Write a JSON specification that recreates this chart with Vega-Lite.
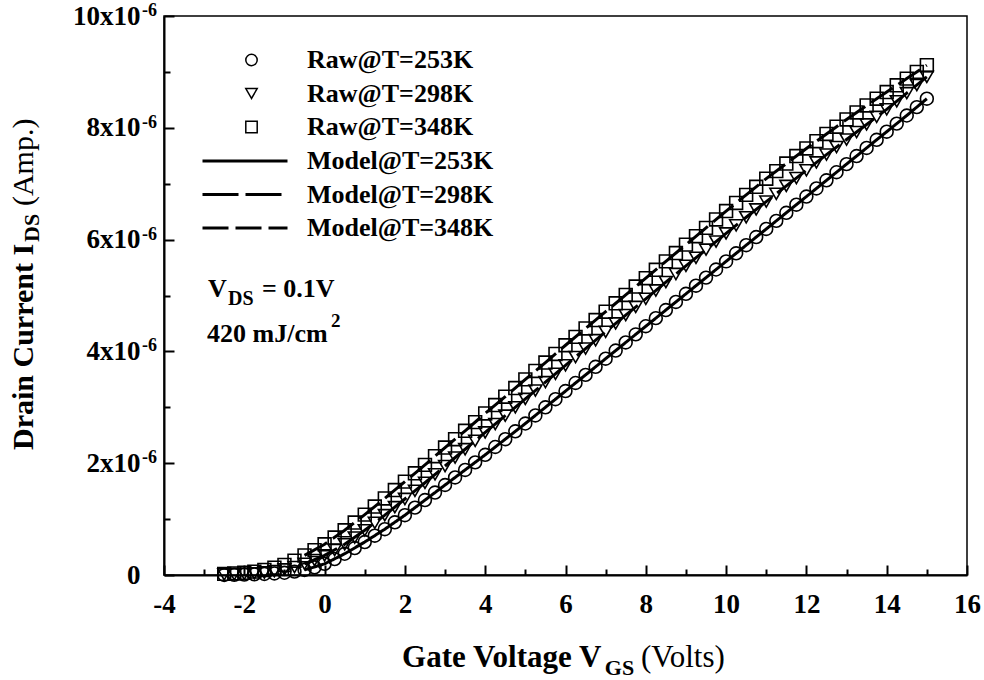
{
  "$schema": "https://vega.github.io/schema/vega-lite/v6.json",
  "width": 803,
  "height": 559,
  "autosize": "none",
  "padding": {"left": 164, "top": 16, "right": 17, "bottom": 105},
  "background": "white",
  "config": {
    "view": {"stroke": "black", "strokeWidth": 1.5},
    "axis": {
      "labelFont": "Liberation Serif",
      "labelFontWeight": "bold",
      "labelFontSize": 27,
      "labelColor": "black",
      "domainColor": "black",
      "domainWidth": 2,
      "tickColor": "black",
      "tickWidth": 2,
      "grid": false,
      "labelFlush": false,
      "labelOverlap": false
    },
    "legend": {
      "labelFont": "Liberation Serif",
      "labelFontWeight": "bold",
      "labelFontSize": 26,
      "labelColor": "black",
      "labelLimit": 400,
      "padding": 0,
      "rowPadding": 7.5
    },
    "text": {"font": "Liberation Serif", "color": "black", "align": "left", "baseline": "alphabetic"}
  },
  "datasets": {
    "raw": [
      {"T": 253, "v": -2.5, "i": 0.0}, {"T": 253, "v": -2.25, "i": 0.004}, {"T": 253, "v": -2.0, "i": 0.008}, {"T": 253, "v": -1.75, "i": 0.012},
      {"T": 253, "v": -1.5, "i": 0.018}, {"T": 253, "v": -1.25, "i": 0.027}, {"T": 253, "v": -1.0, "i": 0.04}, {"T": 253, "v": -0.75, "i": 0.06},
      {"T": 253, "v": -0.5, "i": 0.09}, {"T": 253, "v": -0.25, "i": 0.138}, {"T": 253, "v": 0.0, "i": 0.2}, {"T": 253, "v": 0.25, "i": 0.285},
      {"T": 253, "v": 0.5, "i": 0.38}, {"T": 253, "v": 0.75, "i": 0.482}, {"T": 253, "v": 1.0, "i": 0.59}, {"T": 253, "v": 1.25, "i": 0.703},
      {"T": 253, "v": 1.5, "i": 0.82}, {"T": 253, "v": 1.75, "i": 0.943}, {"T": 253, "v": 2.0, "i": 1.07}, {"T": 253, "v": 2.25, "i": 1.205},
      {"T": 253, "v": 2.5, "i": 1.34}, {"T": 253, "v": 2.75, "i": 1.475}, {"T": 253, "v": 3.0, "i": 1.61}, {"T": 253, "v": 3.25, "i": 1.745},
      {"T": 253, "v": 3.5, "i": 1.88}, {"T": 253, "v": 3.75, "i": 2.015}, {"T": 253, "v": 4.0, "i": 2.15}, {"T": 253, "v": 4.25, "i": 2.29},
      {"T": 253, "v": 4.5, "i": 2.43}, {"T": 253, "v": 4.75, "i": 2.57}, {"T": 253, "v": 5.0, "i": 2.71}, {"T": 253, "v": 5.25, "i": 2.855},
      {"T": 253, "v": 5.5, "i": 3.0}, {"T": 253, "v": 5.75, "i": 3.145}, {"T": 253, "v": 6.0, "i": 3.29}, {"T": 253, "v": 6.25, "i": 3.435},
      {"T": 253, "v": 6.5, "i": 3.58}, {"T": 253, "v": 6.75, "i": 3.725}, {"T": 253, "v": 7.0, "i": 3.87}, {"T": 253, "v": 7.25, "i": 4.015},
      {"T": 253, "v": 7.5, "i": 4.16}, {"T": 253, "v": 7.75, "i": 4.305}, {"T": 253, "v": 8.0, "i": 4.45}, {"T": 253, "v": 8.25, "i": 4.595},
      {"T": 253, "v": 8.5, "i": 4.74}, {"T": 253, "v": 8.75, "i": 4.885}, {"T": 253, "v": 9.0, "i": 5.03}, {"T": 253, "v": 9.25, "i": 5.175},
      {"T": 253, "v": 9.5, "i": 5.32}, {"T": 253, "v": 9.75, "i": 5.465}, {"T": 253, "v": 10.0, "i": 5.61}, {"T": 253, "v": 10.25, "i": 5.755},
      {"T": 253, "v": 10.5, "i": 5.9}, {"T": 253, "v": 10.75, "i": 6.045}, {"T": 253, "v": 11.0, "i": 6.19}, {"T": 253, "v": 11.25, "i": 6.335},
      {"T": 253, "v": 11.5, "i": 6.48}, {"T": 253, "v": 11.75, "i": 6.625}, {"T": 253, "v": 12.0, "i": 6.77}, {"T": 253, "v": 12.25, "i": 6.915},
      {"T": 253, "v": 12.5, "i": 7.06}, {"T": 253, "v": 12.75, "i": 7.205}, {"T": 253, "v": 13.0, "i": 7.35}, {"T": 253, "v": 13.25, "i": 7.495},
      {"T": 253, "v": 13.5, "i": 7.64}, {"T": 253, "v": 13.75, "i": 7.785}, {"T": 253, "v": 14.0, "i": 7.93}, {"T": 253, "v": 14.25, "i": 8.075},
      {"T": 253, "v": 14.5, "i": 8.22}, {"T": 253, "v": 14.75, "i": 8.37}, {"T": 253, "v": 15.0, "i": 8.52},

      {"T": 298, "v": -2.5, "i": 0.01}, {"T": 298, "v": -2.25, "i": 0.014}, {"T": 298, "v": -2.0, "i": 0.02}, {"T": 298, "v": -1.75, "i": 0.03},
      {"T": 298, "v": -1.5, "i": 0.045}, {"T": 298, "v": -1.25, "i": 0.068}, {"T": 298, "v": -1.0, "i": 0.1}, {"T": 298, "v": -0.75, "i": 0.143},
      {"T": 298, "v": -0.5, "i": 0.2}, {"T": 298, "v": -0.25, "i": 0.268}, {"T": 298, "v": 0.0, "i": 0.35}, {"T": 298, "v": 0.25, "i": 0.445},
      {"T": 298, "v": 0.5, "i": 0.55}, {"T": 298, "v": 0.75, "i": 0.67}, {"T": 298, "v": 1.0, "i": 0.8}, {"T": 298, "v": 1.25, "i": 0.933},
      {"T": 298, "v": 1.5, "i": 1.07}, {"T": 298, "v": 1.75, "i": 1.213}, {"T": 298, "v": 2.0, "i": 1.36}, {"T": 298, "v": 2.25, "i": 1.505},
      {"T": 298, "v": 2.5, "i": 1.65}, {"T": 298, "v": 2.75, "i": 1.8}, {"T": 298, "v": 3.0, "i": 1.95}, {"T": 298, "v": 3.25, "i": 2.1},
      {"T": 298, "v": 3.5, "i": 2.25}, {"T": 298, "v": 3.75, "i": 2.4}, {"T": 298, "v": 4.0, "i": 2.55}, {"T": 298, "v": 4.25, "i": 2.7},
      {"T": 298, "v": 4.5, "i": 2.85}, {"T": 298, "v": 4.75, "i": 3.0}, {"T": 298, "v": 5.0, "i": 3.15}, {"T": 298, "v": 5.25, "i": 3.3},
      {"T": 298, "v": 5.5, "i": 3.45}, {"T": 298, "v": 5.75, "i": 3.6}, {"T": 298, "v": 6.0, "i": 3.75}, {"T": 298, "v": 6.25, "i": 3.9},
      {"T": 298, "v": 6.5, "i": 4.05}, {"T": 298, "v": 6.75, "i": 4.2}, {"T": 298, "v": 7.0, "i": 4.35}, {"T": 298, "v": 7.25, "i": 4.5},
      {"T": 298, "v": 7.5, "i": 4.65}, {"T": 298, "v": 7.75, "i": 4.795}, {"T": 298, "v": 8.0, "i": 4.94}, {"T": 298, "v": 8.25, "i": 5.09},
      {"T": 298, "v": 8.5, "i": 5.24}, {"T": 298, "v": 8.75, "i": 5.385}, {"T": 298, "v": 9.0, "i": 5.53}, {"T": 298, "v": 9.25, "i": 5.675},
      {"T": 298, "v": 9.5, "i": 5.82}, {"T": 298, "v": 9.75, "i": 5.965}, {"T": 298, "v": 10.0, "i": 6.11}, {"T": 298, "v": 10.25, "i": 6.255},
      {"T": 298, "v": 10.5, "i": 6.4}, {"T": 298, "v": 10.75, "i": 6.54}, {"T": 298, "v": 11.0, "i": 6.68}, {"T": 298, "v": 11.25, "i": 6.82},
      {"T": 298, "v": 11.5, "i": 6.96}, {"T": 298, "v": 11.75, "i": 7.1}, {"T": 298, "v": 12.0, "i": 7.24}, {"T": 298, "v": 12.25, "i": 7.38},
      {"T": 298, "v": 12.5, "i": 7.52}, {"T": 298, "v": 12.75, "i": 7.655}, {"T": 298, "v": 13.0, "i": 7.79}, {"T": 298, "v": 13.25, "i": 7.925},
      {"T": 298, "v": 13.5, "i": 8.06}, {"T": 298, "v": 13.75, "i": 8.195}, {"T": 298, "v": 14.0, "i": 8.33}, {"T": 298, "v": 14.25, "i": 8.475},
      {"T": 298, "v": 14.5, "i": 8.62}, {"T": 298, "v": 14.75, "i": 8.765}, {"T": 298, "v": 15.0, "i": 8.91},

      {"T": 348, "v": -2.5, "i": 0.02}, {"T": 348, "v": -2.25, "i": 0.028}, {"T": 348, "v": -2.0, "i": 0.04}, {"T": 348, "v": -1.75, "i": 0.06},
      {"T": 348, "v": -1.5, "i": 0.09}, {"T": 348, "v": -1.25, "i": 0.13}, {"T": 348, "v": -1.0, "i": 0.18}, {"T": 348, "v": -0.75, "i": 0.255},
      {"T": 348, "v": -0.5, "i": 0.35}, {"T": 348, "v": -0.25, "i": 0.445}, {"T": 348, "v": 0.0, "i": 0.55}, {"T": 348, "v": 0.25, "i": 0.67},
      {"T": 348, "v": 0.5, "i": 0.8}, {"T": 348, "v": 0.75, "i": 0.938}, {"T": 348, "v": 1.0, "i": 1.08}, {"T": 348, "v": 1.25, "i": 1.225},
      {"T": 348, "v": 1.5, "i": 1.37}, {"T": 348, "v": 1.75, "i": 1.52}, {"T": 348, "v": 2.0, "i": 1.67}, {"T": 348, "v": 2.25, "i": 1.82},
      {"T": 348, "v": 2.5, "i": 1.97}, {"T": 348, "v": 2.75, "i": 2.125}, {"T": 348, "v": 3.0, "i": 2.28}, {"T": 348, "v": 3.25, "i": 2.43},
      {"T": 348, "v": 3.5, "i": 2.58}, {"T": 348, "v": 3.75, "i": 2.735}, {"T": 348, "v": 4.0, "i": 2.89}, {"T": 348, "v": 4.25, "i": 3.04},
      {"T": 348, "v": 4.5, "i": 3.19}, {"T": 348, "v": 4.75, "i": 3.345}, {"T": 348, "v": 5.0, "i": 3.5}, {"T": 348, "v": 5.25, "i": 3.65},
      {"T": 348, "v": 5.5, "i": 3.8}, {"T": 348, "v": 5.75, "i": 3.955}, {"T": 348, "v": 6.0, "i": 4.11}, {"T": 348, "v": 6.25, "i": 4.26},
      {"T": 348, "v": 6.5, "i": 4.41}, {"T": 348, "v": 6.75, "i": 4.56}, {"T": 348, "v": 7.0, "i": 4.71}, {"T": 348, "v": 7.25, "i": 4.86},
      {"T": 348, "v": 7.5, "i": 5.01}, {"T": 348, "v": 7.75, "i": 5.16}, {"T": 348, "v": 8.0, "i": 5.31}, {"T": 348, "v": 8.25, "i": 5.46},
      {"T": 348, "v": 8.5, "i": 5.61}, {"T": 348, "v": 8.75, "i": 5.76}, {"T": 348, "v": 9.0, "i": 5.91}, {"T": 348, "v": 9.25, "i": 6.06},
      {"T": 348, "v": 9.5, "i": 6.21}, {"T": 348, "v": 9.75, "i": 6.36}, {"T": 348, "v": 10.0, "i": 6.51}, {"T": 348, "v": 10.25, "i": 6.655},
      {"T": 348, "v": 10.5, "i": 6.8}, {"T": 348, "v": 10.75, "i": 6.945}, {"T": 348, "v": 11.0, "i": 7.09}, {"T": 348, "v": 11.25, "i": 7.225},
      {"T": 348, "v": 11.5, "i": 7.36}, {"T": 348, "v": 11.75, "i": 7.495}, {"T": 348, "v": 12.0, "i": 7.63}, {"T": 348, "v": 12.25, "i": 7.76},
      {"T": 348, "v": 12.5, "i": 7.89}, {"T": 348, "v": 12.75, "i": 8.02}, {"T": 348, "v": 13.0, "i": 8.15}, {"T": 348, "v": 13.25, "i": 8.275},
      {"T": 348, "v": 13.5, "i": 8.4}, {"T": 348, "v": 13.75, "i": 8.52}, {"T": 348, "v": 14.0, "i": 8.64}, {"T": 348, "v": 14.25, "i": 8.76},
      {"T": 348, "v": 14.5, "i": 8.88}, {"T": 348, "v": 14.75, "i": 9.0}, {"T": 348, "v": 15.0, "i": 9.12}
    ],
    "model": [
      {"model": "Model@T=253K", "v": -0.5, "i": 0.09}, {"model": "Model@T=253K", "v": 0.0, "i": 0.2}, {"model": "Model@T=253K", "v": 0.5, "i": 0.38}, {"model": "Model@T=253K", "v": 1.0, "i": 0.59},
      {"model": "Model@T=253K", "v": 1.5, "i": 0.82}, {"model": "Model@T=253K", "v": 2.0, "i": 1.07}, {"model": "Model@T=253K", "v": 2.5, "i": 1.34}, {"model": "Model@T=253K", "v": 3.0, "i": 1.61},
      {"model": "Model@T=253K", "v": 3.5, "i": 1.88}, {"model": "Model@T=253K", "v": 4.0, "i": 2.15}, {"model": "Model@T=253K", "v": 4.5, "i": 2.43}, {"model": "Model@T=253K", "v": 5.0, "i": 2.71},
      {"model": "Model@T=253K", "v": 5.5, "i": 3.0}, {"model": "Model@T=253K", "v": 6.0, "i": 3.29}, {"model": "Model@T=253K", "v": 6.5, "i": 3.58}, {"model": "Model@T=253K", "v": 7.0, "i": 3.87},
      {"model": "Model@T=253K", "v": 7.5, "i": 4.16}, {"model": "Model@T=253K", "v": 8.0, "i": 4.45}, {"model": "Model@T=253K", "v": 8.5, "i": 4.74}, {"model": "Model@T=253K", "v": 9.0, "i": 5.03},
      {"model": "Model@T=253K", "v": 9.5, "i": 5.32}, {"model": "Model@T=253K", "v": 10.0, "i": 5.61}, {"model": "Model@T=253K", "v": 10.5, "i": 5.9}, {"model": "Model@T=253K", "v": 11.0, "i": 6.19},
      {"model": "Model@T=253K", "v": 11.5, "i": 6.48}, {"model": "Model@T=253K", "v": 12.0, "i": 6.77}, {"model": "Model@T=253K", "v": 12.5, "i": 7.06}, {"model": "Model@T=253K", "v": 13.0, "i": 7.35},
      {"model": "Model@T=253K", "v": 13.5, "i": 7.64}, {"model": "Model@T=253K", "v": 14.0, "i": 7.93}, {"model": "Model@T=253K", "v": 14.5, "i": 8.22}, {"model": "Model@T=253K", "v": 15.0, "i": 8.52},

      {"model": "Model@T=298K", "v": -0.5, "i": 0.2}, {"model": "Model@T=298K", "v": 0.0, "i": 0.35}, {"model": "Model@T=298K", "v": 0.5, "i": 0.55}, {"model": "Model@T=298K", "v": 1.0, "i": 0.8},
      {"model": "Model@T=298K", "v": 1.5, "i": 1.07}, {"model": "Model@T=298K", "v": 2.0, "i": 1.36}, {"model": "Model@T=298K", "v": 2.5, "i": 1.65}, {"model": "Model@T=298K", "v": 3.0, "i": 1.95},
      {"model": "Model@T=298K", "v": 3.5, "i": 2.25}, {"model": "Model@T=298K", "v": 4.0, "i": 2.55}, {"model": "Model@T=298K", "v": 4.5, "i": 2.85}, {"model": "Model@T=298K", "v": 5.0, "i": 3.15},
      {"model": "Model@T=298K", "v": 5.5, "i": 3.45}, {"model": "Model@T=298K", "v": 6.0, "i": 3.75}, {"model": "Model@T=298K", "v": 6.5, "i": 4.05}, {"model": "Model@T=298K", "v": 7.0, "i": 4.35},
      {"model": "Model@T=298K", "v": 7.5, "i": 4.65}, {"model": "Model@T=298K", "v": 8.0, "i": 4.94}, {"model": "Model@T=298K", "v": 8.5, "i": 5.24}, {"model": "Model@T=298K", "v": 9.0, "i": 5.53},
      {"model": "Model@T=298K", "v": 9.5, "i": 5.82}, {"model": "Model@T=298K", "v": 10.0, "i": 6.11}, {"model": "Model@T=298K", "v": 10.5, "i": 6.4}, {"model": "Model@T=298K", "v": 11.0, "i": 6.68},
      {"model": "Model@T=298K", "v": 11.5, "i": 6.96}, {"model": "Model@T=298K", "v": 12.0, "i": 7.24}, {"model": "Model@T=298K", "v": 12.5, "i": 7.52}, {"model": "Model@T=298K", "v": 13.0, "i": 7.79},
      {"model": "Model@T=298K", "v": 13.5, "i": 8.06}, {"model": "Model@T=298K", "v": 14.0, "i": 8.33}, {"model": "Model@T=298K", "v": 14.5, "i": 8.62}, {"model": "Model@T=298K", "v": 15.0, "i": 8.91},

      {"model": "Model@T=348K", "v": -0.5, "i": 0.35}, {"model": "Model@T=348K", "v": 0.0, "i": 0.55}, {"model": "Model@T=348K", "v": 0.5, "i": 0.8}, {"model": "Model@T=348K", "v": 1.0, "i": 1.08},
      {"model": "Model@T=348K", "v": 1.5, "i": 1.37}, {"model": "Model@T=348K", "v": 2.0, "i": 1.67}, {"model": "Model@T=348K", "v": 2.5, "i": 1.97}, {"model": "Model@T=348K", "v": 3.0, "i": 2.28},
      {"model": "Model@T=348K", "v": 3.5, "i": 2.58}, {"model": "Model@T=348K", "v": 4.0, "i": 2.89}, {"model": "Model@T=348K", "v": 4.5, "i": 3.19}, {"model": "Model@T=348K", "v": 5.0, "i": 3.5},
      {"model": "Model@T=348K", "v": 5.5, "i": 3.8}, {"model": "Model@T=348K", "v": 6.0, "i": 4.11}, {"model": "Model@T=348K", "v": 6.5, "i": 4.41}, {"model": "Model@T=348K", "v": 7.0, "i": 4.71},
      {"model": "Model@T=348K", "v": 7.5, "i": 5.01}, {"model": "Model@T=348K", "v": 8.0, "i": 5.31}, {"model": "Model@T=348K", "v": 8.5, "i": 5.61}, {"model": "Model@T=348K", "v": 9.0, "i": 5.91},
      {"model": "Model@T=348K", "v": 9.5, "i": 6.21}, {"model": "Model@T=348K", "v": 10.0, "i": 6.51}, {"model": "Model@T=348K", "v": 10.5, "i": 6.8}, {"model": "Model@T=348K", "v": 11.0, "i": 7.09},
      {"model": "Model@T=348K", "v": 11.5, "i": 7.36}, {"model": "Model@T=348K", "v": 12.0, "i": 7.63}, {"model": "Model@T=348K", "v": 12.5, "i": 7.89}, {"model": "Model@T=348K", "v": 13.0, "i": 8.15},
      {"model": "Model@T=348K", "v": 13.5, "i": 8.4}, {"model": "Model@T=348K", "v": 14.0, "i": 8.64}, {"model": "Model@T=348K", "v": 14.5, "i": 8.88}, {"model": "Model@T=348K", "v": 15.0, "i": 9.12}
    ]
  },
  "layer": [
    {
      "data": {"name": "raw"},
      "mark": {"type": "point", "filled": false, "size": 165, "strokeWidth": 1.6, "color": "black", "opacity": 1},
      "encoding": {
        "x": {
          "field": "v", "type": "quantitative",
          "scale": {"domain": [-4, 16], "nice": false, "zero": false},
          "axis": {
            "title": null,
            "values": [-4, -3, -2, -1, 0, 1, 2, 3, 4, 5, 6, 7, 8, 9, 10, 11, 12, 13, 14, 15, 16],
            "labelExpr": "datum.value % 2 == 0 ? '' + datum.value : ''",
            "tickSize": {"condition": {"test": "datum.value % 2 != 0", "value": -6}, "value": -10},
            "labelFont": "Liberation Serif", "labelFontWeight": "bold", "labelFontSize": 27,
            "labelPadding": 26
          }
        },
        "y": {
          "field": "i", "type": "quantitative",
          "scale": {"domain": [0, 10], "nice": false, "zero": false},
          "axis": {
            "title": null,
            "values": [0, 1, 2, 3, 4, 5, 6, 7, 8, 9, 10],
            "labelExpr": "datum.value == 0 ? '0' : (datum.value % 2 == 0 ? datum.value + 'x10' : '')",
            "tickSize": {"condition": {"test": "datum.value % 2 != 0", "value": -6}, "value": -10},
            "labelFont": "Liberation Serif", "labelFontWeight": "bold", "labelFontSize": 27,
            "labelPadding": 34
          }
        },
        "shape": {
          "field": "T", "type": "nominal",
          "scale": {"domain": [253, 298, 348], "range": ["circle", "triangle-down", "square"]},
          "legend": {
            "orient": "none", "legendX": 74.5, "legendY": 31, "title": null,
            "labelExpr": "'Raw@T=' + datum.label + 'K'",
            "labelOffset": 42.5, "symbolSize": 130, "symbolStrokeWidth": 1.5,
            "symbolStrokeColor": "black", "symbolFillColor": "transparent"
          }
        }
      }
    },
    {
      "data": {"name": "model"},
      "mark": {"type": "line", "color": "black", "strokeWidth": 3},
      "encoding": {
        "x": {"field": "v", "type": "quantitative", "scale": {"domain": [-4, 16], "nice": false, "zero": false}},
        "y": {"field": "i", "type": "quantitative", "scale": {"domain": [0, 10], "nice": false, "zero": false}},
        "strokeDash": {
          "field": "model", "type": "nominal",
          "scale": {"domain": ["Model@T=253K", "Model@T=298K", "Model@T=348K"], "range": [[1, 0], [36, 7], [26, 7]]},
          "legend": {
            "orient": "none", "legendX": 68, "legendY": 132, "title": null,
            "labelOffset": 49, "symbolSize": 100, "symbolStrokeWidth": 3,
            "symbolType": "M-8.5,0H8.5", "symbolStrokeColor": "black"
          }
        }
      }
    },
    {
      "data": {"values": [{"tick": 2}, {"tick": 4}, {"tick": 6}, {"tick": 8}, {"tick": 10}]},
      "mark": {"type": "text", "fontWeight": "bold", "fontSize": 18, "align": "right", "dx": -7, "dy": 0},
      "encoding": {
        "x": {"datum": -4, "type": "quantitative", "title": null, "scale": {"domain": [-4, 16], "nice": false, "zero": false}},
        "y": {"field": "tick", "type": "quantitative", "title": null, "scale": {"domain": [0, 10], "nice": false, "zero": false}},
        "text": {"value": "-6"}
      }
    },
    {
      "data": {"values": [{"t": "Gate Voltage V"}]},
      "mark": {"type": "text", "fontWeight": "bold", "fontSize": 31},
      "encoding": {
        "x": {"datum": 1.93, "type": "quantitative", "title": null, "scale": {"domain": [-4, 16], "nice": false, "zero": false}},
        "y": {"datum": -1.646, "type": "quantitative", "title": null, "scale": {"domain": [0, 10], "nice": false, "zero": false}},
        "text": {"field": "t"}
      }
    },
    {
      "data": {"values": [{"t": "GS"}]},
      "mark": {"type": "text", "fontWeight": "bold", "fontSize": 22},
      "encoding": {
        "x": {"datum": 6.98, "type": "quantitative", "title": null, "scale": {"domain": [-4, 16], "nice": false, "zero": false}},
        "y": {"datum": -1.789, "type": "quantitative", "title": null, "scale": {"domain": [0, 10], "nice": false, "zero": false}},
        "text": {"field": "t"}
      }
    },
    {
      "data": {"values": [{"t": "(Volts)"}]},
      "mark": {"type": "text", "fontWeight": "normal", "fontSize": 31},
      "encoding": {
        "x": {"datum": 7.88, "type": "quantitative", "title": null, "scale": {"domain": [-4, 16], "nice": false, "zero": false}},
        "y": {"datum": -1.646, "type": "quantitative", "title": null, "scale": {"domain": [0, 10], "nice": false, "zero": false}},
        "text": {"field": "t"}
      }
    },
    {
      "data": {"values": [{"t": "Drain Current I"}]},
      "mark": {"type": "text", "fontWeight": "bold", "fontSize": 30, "angle": 270},
      "encoding": {
        "x": {"datum": -7.263, "type": "quantitative", "title": null, "scale": {"domain": [-4, 16], "nice": false, "zero": false}},
        "y": {"datum": 2.236, "type": "quantitative", "title": null, "scale": {"domain": [0, 10], "nice": false, "zero": false}},
        "text": {"field": "t"}
      }
    },
    {
      "data": {"values": [{"t": "DS"}]},
      "mark": {"type": "text", "fontWeight": "bold", "fontSize": 22, "angle": 270},
      "encoding": {
        "x": {"datum": -7.113, "type": "quantitative", "title": null, "scale": {"domain": [-4, 16], "nice": false, "zero": false}},
        "y": {"datum": 5.957, "type": "quantitative", "title": null, "scale": {"domain": [0, 10], "nice": false, "zero": false}},
        "text": {"field": "t"}
      }
    },
    {
      "data": {"values": [{"t": "(Amp.)"}]},
      "mark": {"type": "text", "fontWeight": "normal", "fontSize": 30, "angle": 270},
      "encoding": {
        "x": {"datum": -7.263, "type": "quantitative", "title": null, "scale": {"domain": [-4, 16], "nice": false, "zero": false}},
        "y": {"datum": 6.6, "type": "quantitative", "title": null, "scale": {"domain": [0, 10], "nice": false, "zero": false}},
        "text": {"field": "t"}
      }
    },
    {
      "data": {"values": [{"t": "V"}]},
      "mark": {"type": "text", "fontWeight": "bold", "fontSize": 26},
      "encoding": {
        "x": {"datum": -2.904, "type": "quantitative", "title": null, "scale": {"domain": [-4, 16], "nice": false, "zero": false}},
        "y": {"datum": 4.973, "type": "quantitative", "title": null, "scale": {"domain": [0, 10], "nice": false, "zero": false}},
        "text": {"field": "t"}
      }
    },
    {
      "data": {"values": [{"t": "DS"}]},
      "mark": {"type": "text", "fontWeight": "bold", "fontSize": 20},
      "encoding": {
        "x": {"datum": -2.406, "type": "quantitative", "title": null, "scale": {"domain": [-4, 16], "nice": false, "zero": false}},
        "y": {"datum": 4.83, "type": "quantitative", "title": null, "scale": {"domain": [0, 10], "nice": false, "zero": false}},
        "text": {"field": "t"}
      }
    },
    {
      "data": {"values": [{"t": "= 0.1V"}]},
      "mark": {"type": "text", "fontWeight": "bold", "fontSize": 26},
      "encoding": {
        "x": {"datum": -1.559, "type": "quantitative", "title": null, "scale": {"domain": [-4, 16], "nice": false, "zero": false}},
        "y": {"datum": 4.973, "type": "quantitative", "title": null, "scale": {"domain": [0, 10], "nice": false, "zero": false}},
        "text": {"field": "t"}
      }
    },
    {
      "data": {"values": [{"t": "420 mJ/cm"}]},
      "mark": {"type": "text", "fontWeight": "bold", "fontSize": 26},
      "encoding": {
        "x": {"datum": -2.929, "type": "quantitative", "title": null, "scale": {"domain": [-4, 16], "nice": false, "zero": false}},
        "y": {"datum": 4.168, "type": "quantitative", "title": null, "scale": {"domain": [0, 10], "nice": false, "zero": false}},
        "text": {"field": "t"}
      }
    },
    {
      "data": {"values": [{"t": "2"}]},
      "mark": {"type": "text", "fontWeight": "bold", "fontSize": 19},
      "encoding": {
        "x": {"datum": 0.16, "type": "quantitative", "title": null, "scale": {"domain": [-4, 16], "nice": false, "zero": false}},
        "y": {"datum": 4.437, "type": "quantitative", "title": null, "scale": {"domain": [0, 10], "nice": false, "zero": false}},
        "text": {"field": "t"}
      }
    }
  ]
}
